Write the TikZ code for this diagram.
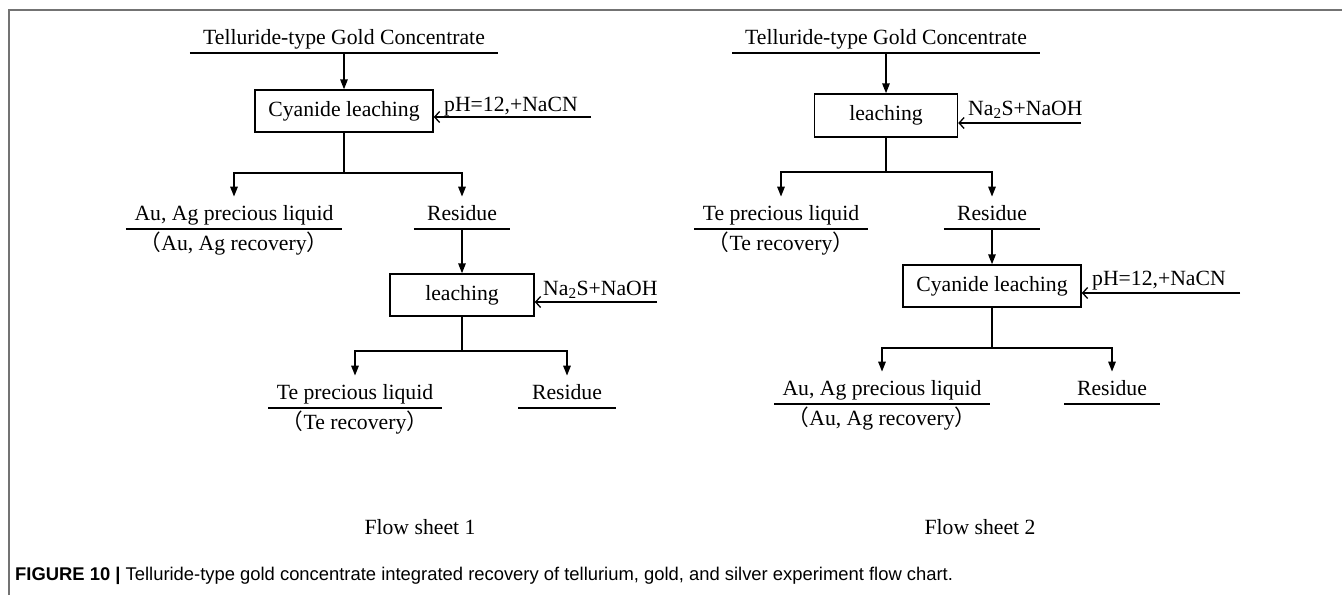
\documentclass[tikz,border=0pt]{standalone}
\usepackage{fontspec}
\setmainfont{Liberation Serif}
\newfontfamily\capfont{Liberation Sans}
\newfontfamily\cjkfont{Noto Sans CJK SC}
\usetikzlibrary{arrows.meta}
\begin{document}
\begin{tikzpicture}[x=1pt,y=-1pt,
  every node/.style={font=\fontsize{21.7}{26}\selectfont},
  lw/.style={line width=1.5pt},
  procbox/.style={draw,lw,minimum width=#1,minimum height=42pt,inner sep=0pt},
  ulabel/.style={inner sep=0pt,text height=24pt,text depth=8pt,minimum width=#1,anchor=south},
  txt/.style={inner sep=0pt,anchor=base west},
  subtxt/.style={inner sep=0pt,anchor=base},
  darr/.style={lw,-{Triangle[length=10pt,width=7.5pt]}},
  iarr/.style={lw,-{Straight Barb[length=5pt,width=11pt,line width=1.3pt]}},
  seg/.style={lw}]
\useasboundingbox (0,0) rectangle (1342,595);
% frame
\draw[black!55,line width=1.6pt] (9,595) -- (9,10) -- (1342,10);

% ---------- Flow sheet 1 ----------
\node[ulabel=308] (t1) at (344,53) {Telluride-type Gold Concentrate};
\draw[seg] (t1.south west) -- (t1.south east);
\node[procbox=178] (c1) at (344,111) {Cyanide leaching};
\draw[darr] (c1.north |- t1.south) -- (c1.north);
\node[txt] (ph1) at (444,111) {pH=12,+NaCN};
\coordinate (in1) at (591,117);
\draw[iarr] (in1) -- (in1 -| c1.east);
\coordinate (j1) at (344,173);
\draw[seg] (c1.south) -- (j1);
\node[ulabel=216] (au1) at (234,229) {Au, Ag precious liquid};
\draw[seg] (au1.south west) -- (au1.south east);
\node[subtxt] (rc1) at ([yshift=-21pt]au1.south) {{\cjkfont （}Au, Ag recovery{\cjkfont ）}};
\node[ulabel=96] (re1) at (462,229) {Residue};
\draw[seg] (re1.south west) -- (re1.south east);
\draw[darr] (j1) -| (au1.north);
\draw[darr] (j1) -| (re1.north);
\node[procbox=144] (l1) at (462,295) {leaching};
\draw[darr] (re1.south) -- (l1.north);
\node[txt] (na1) at (543,295) {Na\textsubscript{2}S+NaOH};
\coordinate (in2) at (657,302);
\draw[iarr] (in2) -- (in2 -| l1.east);
\coordinate (j2) at (462,351);
\draw[seg] (l1.south) -- (j2);
\node[ulabel=173] (te1) at (355,408) {Te precious liquid};
\draw[seg] (te1.south west) -- (te1.south east);
\node[subtxt] (rc2) at ([yshift=-21pt]te1.south) {{\cjkfont （}Te recovery{\cjkfont ）}};
\node[ulabel=97] (re2) at (567,408) {Residue};
\draw[seg] (re2.south west) -- (re2.south east);
\draw[darr] (j2) -| (te1.north);
\draw[darr] (j2) -| (re2.north);
\node[subtxt] (fs1) at (420,534) {Flow sheet 1};

% ---------- Flow sheet 2 ----------
\node[ulabel=307] (t2) at (886,53) {Telluride-type Gold Concentrate};
\draw[seg] (t2.south west) -- (t2.south east);
\node[procbox=143,minimum height=43pt] (l2) at (886,115.5) {leaching};
\draw[darr] (l2.north |- t2.south) -- (l2.north);
\node[txt] (na2) at (968,115) {Na\textsubscript{2}S+NaOH};
\coordinate (in3) at (1081,123);
\draw[iarr] (in3) -- (in3 -| l2.east);
\coordinate (j3) at (886,172);
\draw[seg] (l2.south) -- (j3);
\node[ulabel=173] (te2) at (781,229) {Te precious liquid};
\draw[seg] (te2.south west) -- (te2.south east);
\node[subtxt] (rc3) at ([yshift=-21pt]te2.south) {{\cjkfont （}Te recovery{\cjkfont ）}};
\node[ulabel=96] (re3) at (992,229) {Residue};
\draw[seg] (re3.south west) -- (re3.south east);
\draw[darr] (j3) -| (te2.north);
\draw[darr] (j3) -| (re3.north);
\node[procbox=178] (c2) at (992,286) {Cyanide leaching};
\draw[darr] (re3.south) -- (c2.north);
\node[txt] (ph2) at (1092,285) {pH=12,+NaCN};
\coordinate (in4) at (1240,293);
\draw[iarr] (in4) -- (in4 -| c2.east);
\coordinate (j4) at (992,348);
\draw[seg] (c2.south) -- (j4);
\node[ulabel=215] (au2) at (882,404) {Au, Ag precious liquid};
\draw[seg] (au2.south west) -- (au2.south east);
\node[subtxt] (rc4) at ([yshift=-21pt]au2.south) {{\cjkfont （}Au, Ag recovery{\cjkfont ）}};
\node[ulabel=95] (re4) at (1112,404) {Residue};
\draw[seg] (re4.south west) -- (re4.south east);
\draw[darr] (j4) -| (au2.north);
\draw[darr] (j4) -| (re4.north);
\node[subtxt] (fs2) at (980,534) {Flow sheet 2};

% caption
\node[txt,font=\capfont\fontsize{18.4}{22}\selectfont] (cap) at (15,580)
  {\textbf{FIGURE 10 |} Telluride-type gold concentrate integrated recovery of tellurium, gold, and silver experiment flow chart.};
\end{tikzpicture}
\end{document}
